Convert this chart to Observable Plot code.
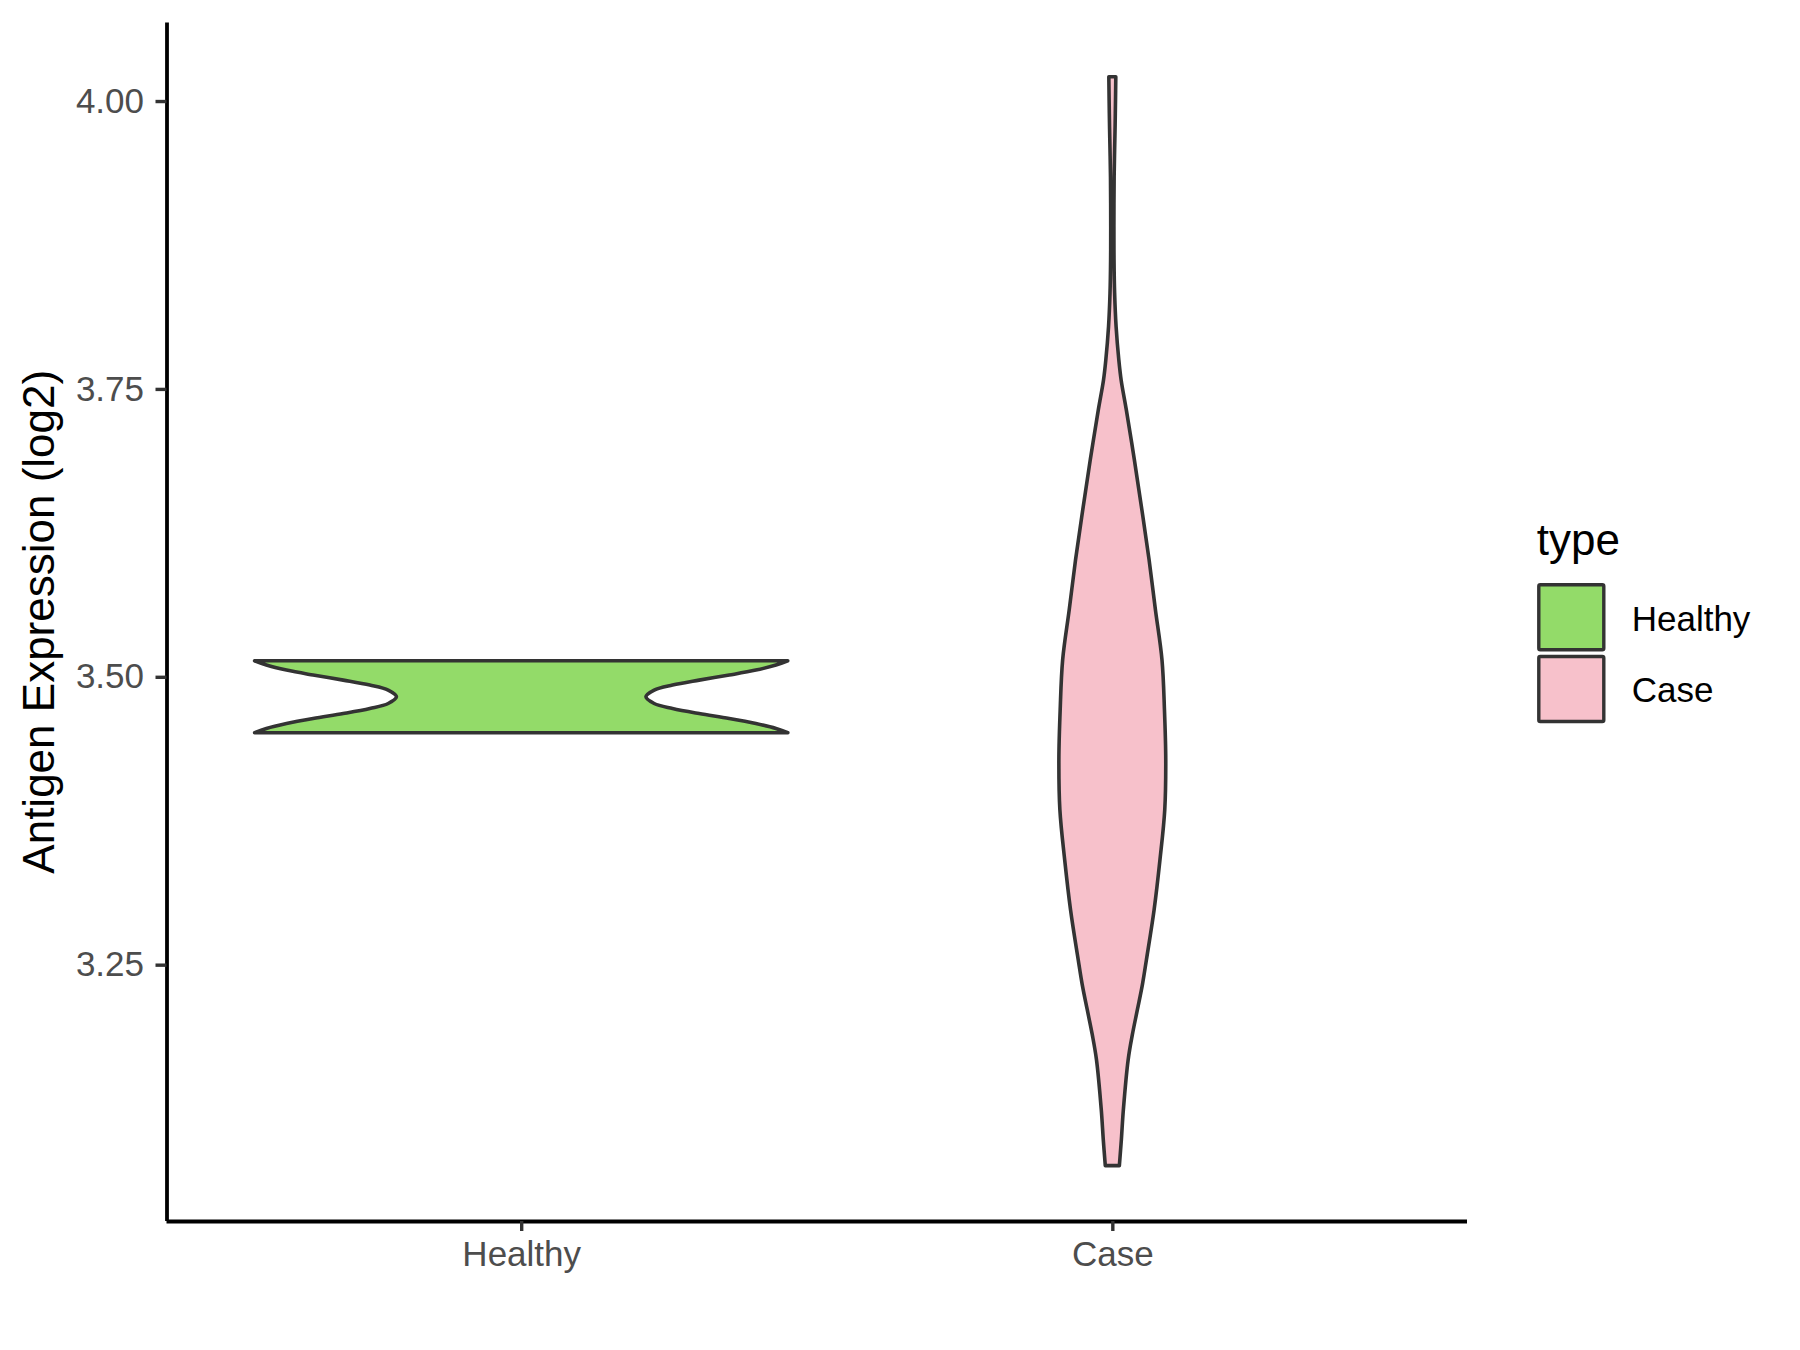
<!DOCTYPE html>
<html>
<head>
<meta charset="utf-8">
<script src="https://cdn.jsdelivr.net/npm/d3@7"></script>
<script src="https://cdn.jsdelivr.net/npm/@observablehq/plot@0.6"></script>
<style>
  html, body { margin: 0; padding: 0; background: #ffffff; }
  #chart { width: 1800px; height: 1350px; }
</style>
</head>
<body>
<div id="chart"></div>
<script>
// ---- data ----
const categories = ["Healthy", "Case"];
const fills = ["#93DB69", "#F7C1CB"];

// violin outline profiles: expression value and half width (in category units)
const healthyValues = [3.5139, 3.5102, 3.5058, 3.5015, 3.4971, 3.4928, 3.4884, 3.4826, 3.4768, 3.4725, 3.4681, 3.4638, 3.4594, 3.4551, 3.4514];
const healthyHalfWidths = [0.451, 0.431, 0.397, 0.352, 0.301, 0.256, 0.225, 0.211, 0.225, 0.256, 0.301, 0.352, 0.397, 0.431, 0.451];

const caseValues = [4.0211, 4.0009, 3.9777, 3.9575, 3.9343, 3.8909, 3.8620, 3.8333, 3.8041, 3.7752, 3.7578, 3.7318, 3.6884, 3.6450, 3.6016, 3.5582, 3.5148, 3.4714, 3.4280, 3.3845, 3.3411, 3.2977, 3.2543, 3.2327, 3.2109, 3.1892, 3.1675, 3.1241, 3.0981, 3.0755];
const caseHalfWidths = [0.0059, 0.0054, 0.0047, 0.0039, 0.0031, 0.0027, 0.0029, 0.0039, 0.0064, 0.0110, 0.0149, 0.0237, 0.0373, 0.0500, 0.0622, 0.0729, 0.0840, 0.0882, 0.0904, 0.0887, 0.0806, 0.0707, 0.0577, 0.0509, 0.0424, 0.0339, 0.0268, 0.0187, 0.0153, 0.0119];

const yTicks = [3.25, 3.50, 3.75, 4.00];
const yDomain = [3.0274, 4.0682];
const xDomain = [0.4, 2.6];

const yTitle = "Antigen Expression (log2)";
const legendTitle = "type";

// ---- build table ----
const profiles = [
  {type: "Healthy", values: healthyValues, hw: healthyHalfWidths},
  {type: "Case", values: caseValues, hw: caseHalfWidths}
];
const rows = [];
profiles.forEach(p => {
  const pos = categories.indexOf(p.type) + 1;
  p.values.forEach((v, i) => rows.push({type: p.type, pos, v, hw: p.hw[i]}));
});

const W = 1800, H = 1350;
const plot = Plot.plot({
  width: W,
  height: H,
  marginLeft: 166.5,
  marginRight: W - 1467,
  marginTop: 22.5,
  marginBottom: H - 1221,
  style: {fontFamily: "'Liberation Sans', Arial, sans-serif", fontSize: "35px", background: "#ffffff", overflow: "visible"},
  x: {domain: xDomain},
  y: {domain: yDomain},
  color: {domain: categories, range: fills},
  marks: [
    Plot.areaX(rows, {
      y: "v",
      x1: d => d.pos - d.hw,
      x2: d => d.pos + d.hw,
      z: "type",
      fill: "type",
      stroke: "#333333",
      strokeWidth: 3.6,
      strokeLinejoin: "round",
      curve: "catmull-rom"
    }),
    Plot.ruleX([xDomain[0]], {stroke: "#000000", strokeWidth: 3.8}),
    Plot.ruleY([yDomain[0]], {stroke: "#000000", strokeWidth: 3.8}),
    Plot.axisY({
      ticks: yTicks,
      tickFormat: d3.format(".2f"),
      tickSize: 11,
      tickPadding: 12,
      fontSize: 35,
      fill: "#4d4d4d",
      stroke: "#333333",
      strokeWidth: 3.4,
      label: null
    }),
    Plot.axisX({
      ticks: [1, 2],
      tickFormat: i => categories[i - 1],
      tickSize: 10,
      tickPadding: 10,
      fontSize: 35,
      fill: "#4d4d4d",
      stroke: "#333333",
      strokeWidth: 3.4,
      label: null
    })
  ]
});

document.getElementById("chart").appendChild(plot);

// ---- axis title and legend ----
const svg = d3.select(plot);
const font = "'Liberation Sans', Arial, sans-serif";
svg.append("text")
  .attr("transform", `translate(54,${(22.5 + 1221) / 2}) rotate(-90)`)
  .attr("text-anchor", "middle")
  .attr("font-family", font)
  .attr("font-size", 44)
  .attr("fill", "#000000")
  .text(yTitle);

const color = plot.scale("color");
const lg = svg.append("g").attr("font-family", font).attr("text-anchor", "start");
lg.append("text")
  .attr("x", 1536.7).attr("y", 555)
  .attr("text-anchor", "start")
  .attr("font-size", 44).attr("fill", "#000000")
  .text(legendTitle);
color.domain.forEach((c, i) => {
  const top = 584.8 + i * 71.7;
  lg.append("rect")
    .attr("x", 1538.8).attr("y", top)
    .attr("width", 65).attr("height", 65)
    .attr("rx", 1.5)
    .attr("fill", color.range[i])
    .attr("stroke", "#333333").attr("stroke-width", 3.4);
  lg.append("text")
    .attr("x", 1631.7).attr("y", top + 45.9)
    .attr("text-anchor", "start")
    .attr("font-size", 35).attr("fill", "#000000")
    .text(c);
});
</script>
</body>
</html>
